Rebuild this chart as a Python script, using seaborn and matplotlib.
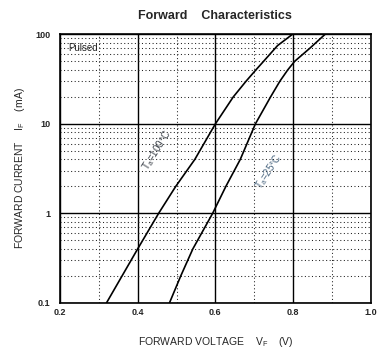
import matplotlib
matplotlib.use("Agg")
import matplotlib.pyplot as plt
import seaborn as sns
from matplotlib.ticker import LogLocator, MultipleLocator, FixedFormatter, FixedLocator
from pandas import DataFrame

# forward voltage (V) vs forward current (mA)
v_100c = [0.320, 0.360, 0.400, 0.454, 0.498, 0.547, 0.600, 0.646, 0.679, 0.704, 0.724, 0.760, 0.798]
i_100c = [0.1, 0.2, 0.4, 1, 2, 4, 10, 20, 30, 40, 50, 75, 100]
v_25c = [0.482, 0.511, 0.542, 0.593, 0.627, 0.664, 0.703, 0.742, 0.766, 0.786, 0.804, 0.843, 0.882]
i_25c = [0.1, 0.2, 0.4, 1, 2, 4, 10, 20, 30, 40, 50, 70, 100]

x_ticks = [0.2, 0.4, 0.6, 0.8, 1.0]
x_labels = ["0.2", "0.4", "0.6", "0.8", "1.0"]
y_ticks = [0.1, 1, 10, 100]
y_labels = ["0.1", "1", "10", "100"]

df = DataFrame({
    "V": v_100c + v_25c,
    "I": i_100c + i_25c,
    "T": ["100"] * len(v_100c) + ["25"] * len(v_25c),
})

sns.set_theme(style="white")
plt.rcParams["font.family"] = ["Liberation Sans", "DejaVu Sans"]
plt.rcParams["mathtext.default"] = "regular"

fig = plt.figure(figsize=(3.92, 3.56), dpi=100)
ax = fig.add_axes([0.153, 0.1497, 0.793, 0.7537])

sns.lineplot(data=df, x="V", y="I", units="T", estimator=None, sort=False,
             color="black", linewidth=1.2, ax=ax)
ax.set_yscale("log")
ax.set_xlim(0.2, 1.0)
ax.set_ylim(0.1, 100)

# grid: solid on decades / 0.2 V, dotted on minor lines
ax.xaxis.set_major_locator(FixedLocator(x_ticks))
ax.xaxis.set_major_formatter(FixedFormatter(x_labels))
ax.xaxis.set_minor_locator(MultipleLocator(0.1))
ax.yaxis.set_major_locator(FixedLocator(y_ticks))
ax.yaxis.set_major_formatter(FixedFormatter(y_labels))
ax.yaxis.set_minor_locator(LogLocator(base=10, subs=range(2, 10)))
ax.grid(which="major", color="black", linewidth=1.0, linestyle="-")
ax.grid(which="minor", color="#222222", linewidth=0.75, linestyle=(0, (1.0, 2.4)))
ax.set_axisbelow(True)
ax.tick_params(which="both", length=0)
ax.tick_params(axis="x", pad=4, labelsize=6.5)
ax.tick_params(axis="y", pad=7, labelsize=6.5)
for lab in ax.get_xticklabels() + ax.get_yticklabels():
    lab.set_fontweight("bold")
for s in ax.spines.values():
    s.set_color("black")
    s.set_linewidth(1.2)

ax.set_xlabel("FORWARD VOLTAGE    V$_F$    (V)", fontsize=7.5, va="center")
ax.xaxis.set_label_coords(0.5, -0.145)
ax.set_ylabel("FORWARD CURRENT    I$_F$    (mA)", fontsize=7.5, va="center")
ax.yaxis.set_label_coords(-0.128, 0.5)
ax.set_title("Forward    Characteristics", fontsize=9, fontweight="bold", pad=11)

ax.text(0.222, 70, "Pulsed", fontsize=7, ha="left", va="center")
ax.text(0.45, 5.0, "T$_a$=100°C", fontsize=7, rotation=58,
        ha="center", va="center", color="#3a4048")
ax.text(0.737, 2.9, "T$_a$=25°C", fontsize=7, rotation=57,
        ha="center", va="center", color="#4a6680")

fig.savefig("out.png", dpi=100)
